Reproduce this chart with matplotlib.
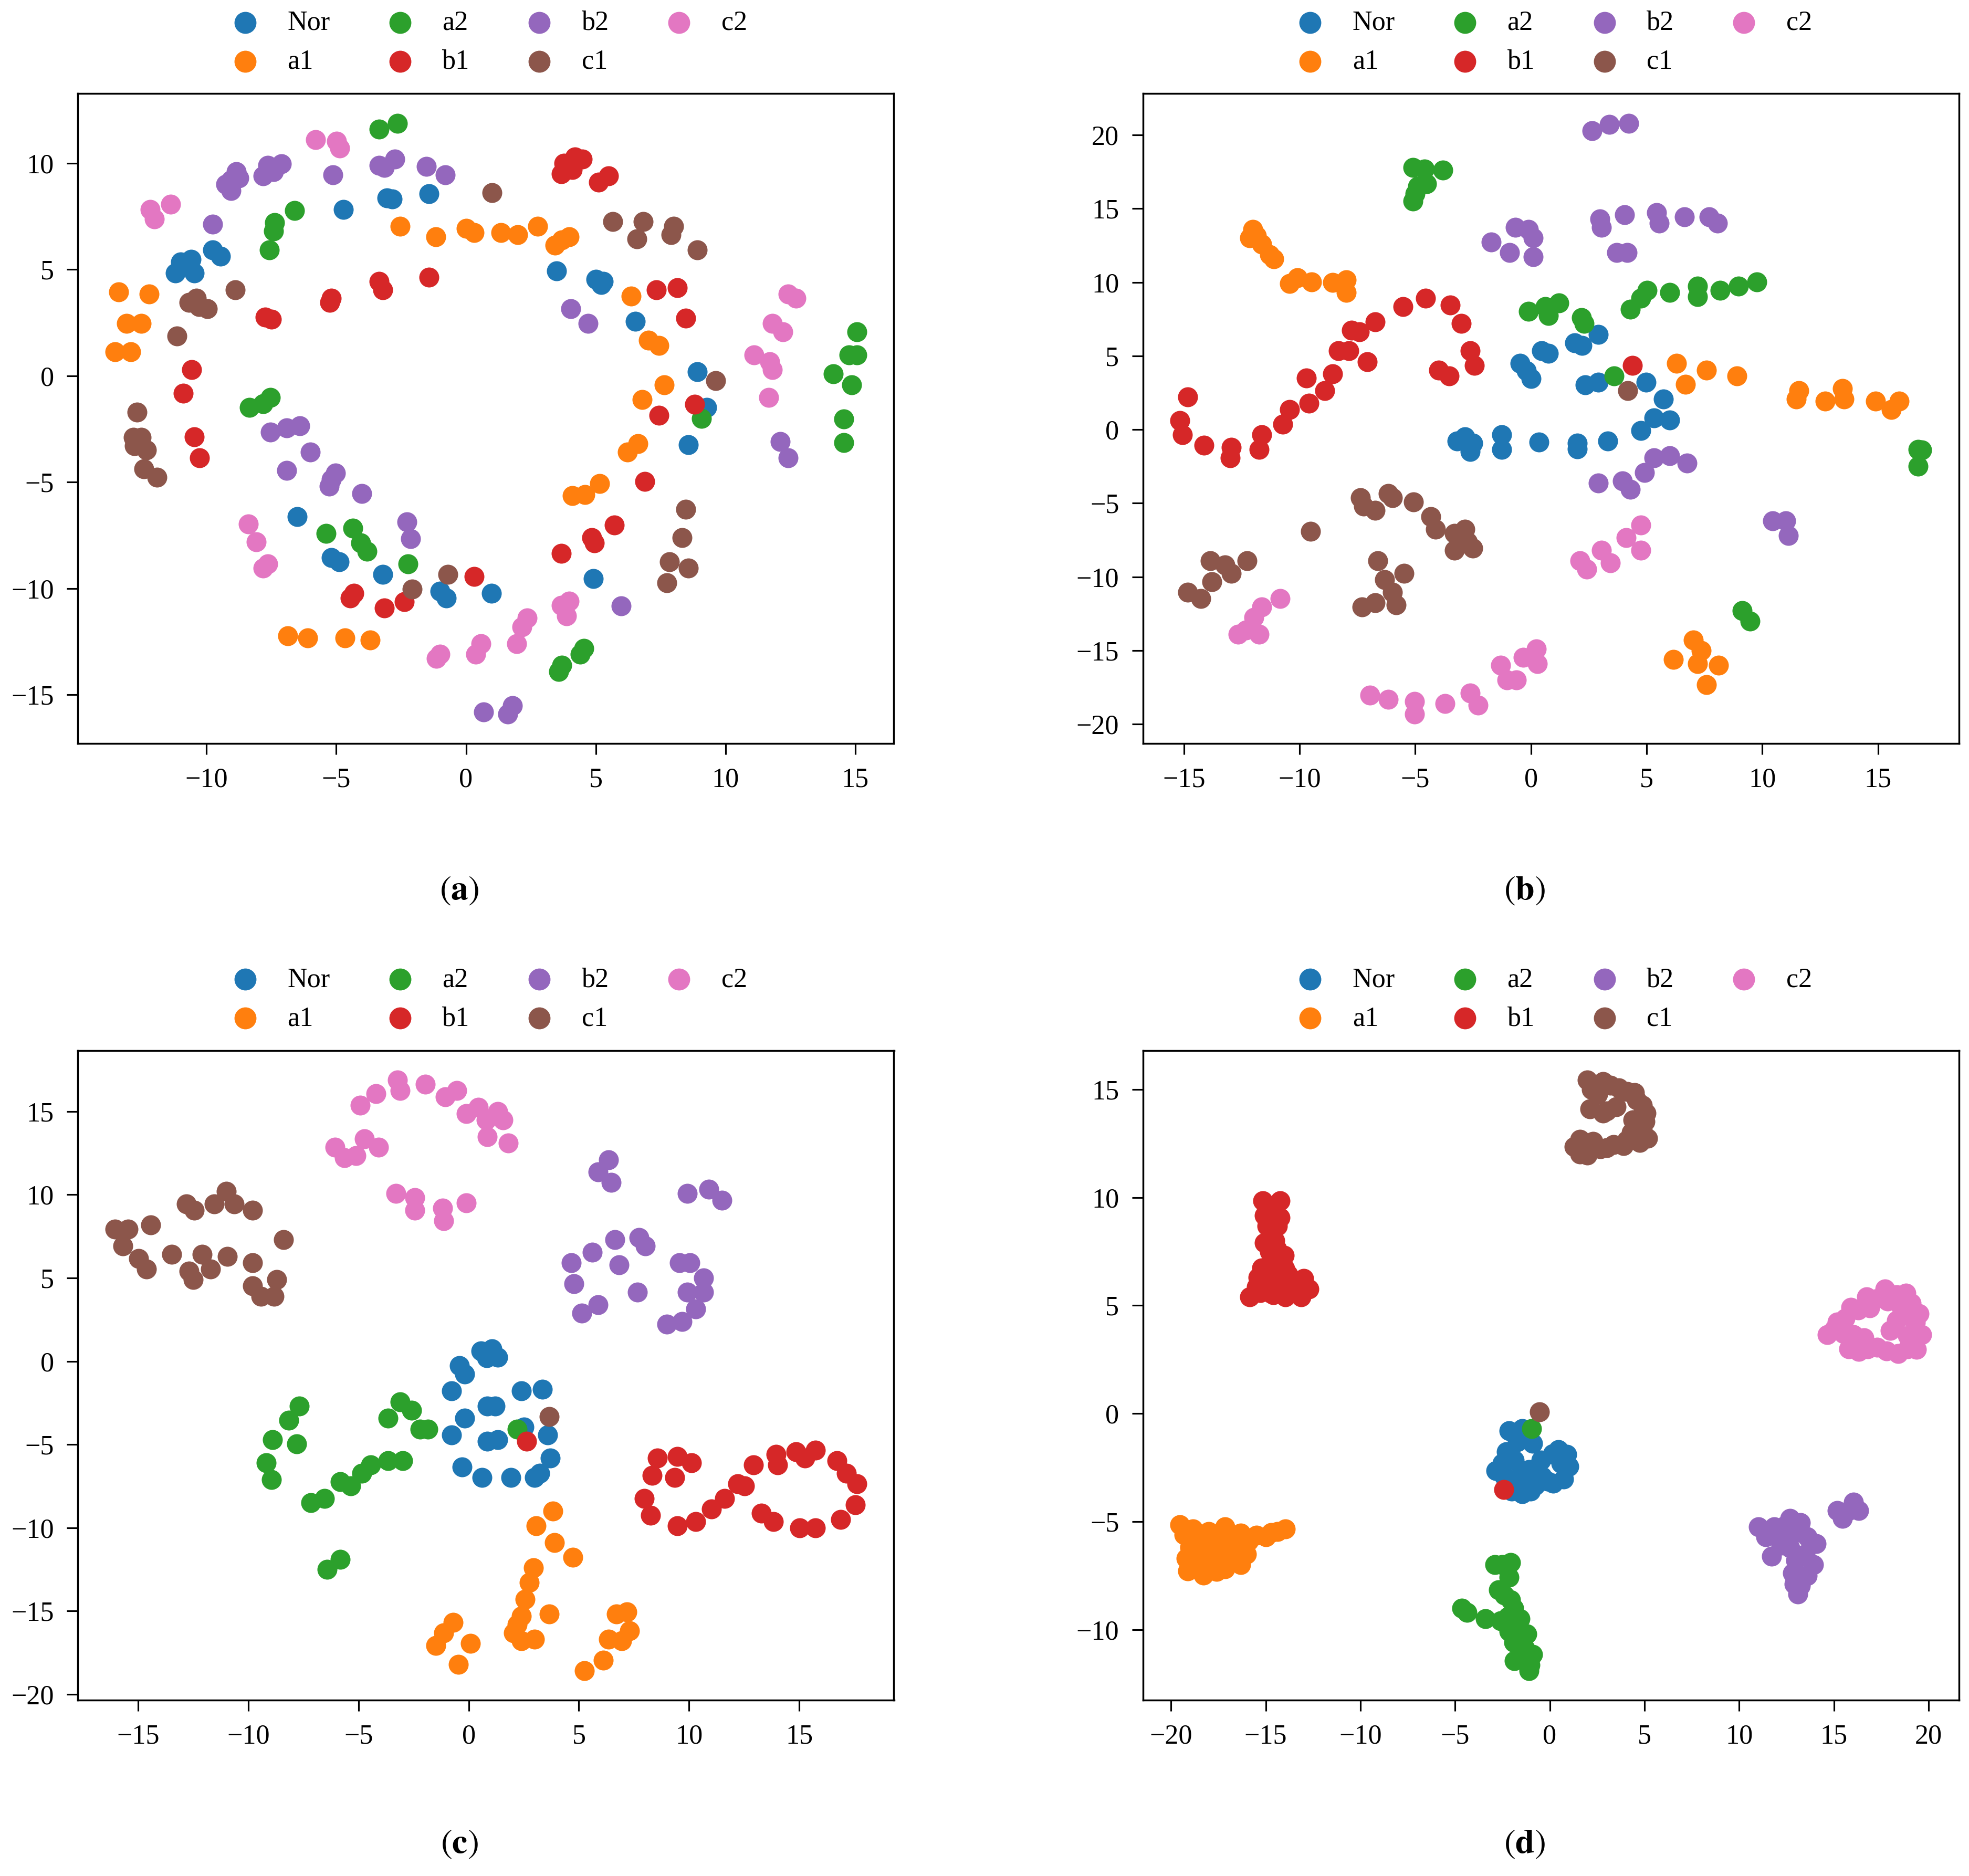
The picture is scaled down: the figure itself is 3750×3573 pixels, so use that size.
import matplotlib
matplotlib.use("Agg")
import matplotlib.pyplot as plt
import numpy as np

# ---------------- data ----------------
CLASSES = ["Nor", "a1", "a2", "b1", "b2", "c1", "c2"]
COLORS = ["#1f77b4", "#ff7f0e", "#2ca02c", "#d62728", "#9467bd", "#8c564b", "#e377c2"]
CAPTIONS = ["a", "b", "c", "d"]

# panel (a)
A_Nor = [(-4.73, 7.82), (-3.04, 8.37), (-2.84, 8.31), (-1.42, 8.57), (-10.99, 5.34), (-10.59, 5.48),
         (-11.19, 4.84), (-10.48, 4.84), (-9.77, 5.93), (-9.46, 5.63), (-6.51, -6.63), (-5.18, -8.55),
         (-4.88, -8.75), (-3.2, -9.35), (-1.0, -10.14), (-0.75, -10.44), (0.98, -10.24), (3.48, 4.94),
         (5.0, 4.54), (5.3, 4.44), (5.2, 4.3), (6.52, 2.56), (8.91, 0.18), (9.27, -1.5), (8.56, -3.25),
         (4.9, -9.54)]
A_a1 = [(-13.38, 3.95), (-12.21, 3.85), (-13.08, 2.46), (-12.52, 2.46), (-13.53, 1.13), (-12.92, 1.13),
        (-2.54, 7.02), (-1.16, 6.53), (0.01, 6.92), (0.32, 6.73), (1.34, 6.73), (2.0, 6.63), (2.76, 7.02),
        (3.42, 6.13), (3.7, 6.4), (3.98, 6.53), (6.37, 3.75), (7.03, 1.67), (7.44, 1.43), (7.64, -0.42),
        (6.78, -1.11), (6.22, -3.59), (6.63, -3.2), (4.09, -5.63), (4.59, -5.58), (5.15, -5.08),
        (-6.86, -12.22), (-6.1, -12.32), (-4.67, -12.32), (-3.7, -12.42)]
A_a2 = [(-3.35, 11.59), (-2.64, 11.88), (-7.37, 7.2), (-7.42, 6.8), (-6.61, 7.78), (-7.58, 5.93),
        (-8.34, -1.5), (-7.83, -1.31), (-7.53, -1.01), (-5.39, -7.42), (-4.37, -7.16), (-4.06, -7.86),
        (-3.81, -8.25), (-2.23, -8.85), (15.06, 2.06), (14.76, 0.97), (15.06, 0.97), (14.15, 0.08),
        (14.86, -0.42), (14.55, -2.04), (14.55, -3.15), (9.07, -2.0), (4.54, -12.82), (4.4, -13.1),
        (3.58, -13.91), (3.7, -13.6)]
A_b1 = [(-7.73, 2.76), (-7.5, 2.65), (-10.58, 0.28), (-10.89, -0.81), (-10.48, -2.86), (-10.27, -3.85),
        (-5.18, 3.65), (-5.25, 3.45), (-3.35, 4.44), (-3.2, 4.05), (-1.42, 4.64), (-4.32, -10.24),
        (-4.47, -10.44), (-3.15, -10.93), (-2.38, -10.63), (0.32, -9.44), (3.78, 10.0), (4.19, 10.3),
        (4.49, 10.2), (3.68, 9.5), (4.09, 9.7), (5.1, 9.1), (5.5, 9.4), (7.34, 4.05), (8.15, 4.15),
        (8.46, 2.7), (7.44, -1.87), (8.81, -1.35), (6.88, -4.98), (5.71, -7.02), (4.95, -7.86),
        (4.85, -7.6), (3.68, -8.35)]
A_b2 = [(-9.77, 7.12), (-9.05, 9.2), (-8.85, 9.6), (-9.26, 9.0), (-8.75, 9.3), (-9.05, 8.7), (-7.83, 9.4),
        (-7.63, 9.9), (-7.12, 9.96), (-7.42, 9.6), (-5.13, 9.44), (-3.15, 9.8), (-2.74, 10.2), (-3.35, 9.9),
        (-1.52, 9.84), (-0.8, 9.44), (-7.53, -2.66), (-6.91, -2.46), (-6.4, -2.34), (-6.0, -3.59),
        (-6.91, -4.44), (-5.18, -4.88), (-5.28, -5.18), (-5.03, -4.58), (-4.01, -5.54), (-2.28, -6.86),
        (-2.13, -7.66), (0.67, -15.8), (1.6, -15.9), (1.8, -15.5), (4.03, 3.15), (4.7, 2.46),
        (12.11, -3.1), (12.42, -3.85), (5.97, -10.83)]
A_c1 = [(-8.9, 4.05), (-10.68, 3.45), (-10.38, 3.65), (-9.97, 3.16), (-10.28, 3.25), (-11.14, 1.87),
        (-12.67, -1.71), (-12.82, -2.9), (-12.52, -2.9), (-12.31, -3.49), (-12.77, -3.29), (-12.41, -4.38),
        (-11.9, -4.78), (-0.7, -9.35), (-2.08, -10.04), (1.0, 8.6), (5.66, 7.26), (6.83, 7.26), (6.58, 6.43),
        (8.0, 7.02), (7.9, 6.63), (8.91, 5.93), (9.62, -0.22), (8.46, -6.27), (8.33, -7.62), (7.85, -8.75),
        (8.56, -9.05), (7.74, -9.74)]
A_c2 = [(-5.8, 11.1), (-4.98, 11.03), (-4.87, 10.7), (-12.16, 7.82), (-12.0, 7.38), (-11.39, 8.06),
        (-8.39, -6.96), (-8.09, -7.82), (-7.83, -9.05), (-7.63, -8.85), (-1.0, -13.1), (-1.15, -13.3),
        (0.37, -13.1), (0.57, -12.6), (12.42, 3.85), (12.72, 3.65), (11.81, 2.46), (12.22, 2.06),
        (11.1, 0.97), (11.71, 0.67), (11.81, 0.28), (11.66, -1.01), (2.15, -11.8), (2.36, -11.4),
        (1.95, -12.6), (3.68, -10.8), (3.98, -10.6), (3.88, -11.3)]

# panel (b)
B_Nor = [(-3.19, -0.79), (-2.85, -0.5), (-2.51, -0.93), (-2.62, -1.5), (-1.26, -0.36), (-1.26, -1.36),
         (0.34, -0.84), (-0.46, 4.48), (0.0, 3.48), (-0.2, 4.0), (0.46, 5.34), (0.76, 5.19), (1.9, 5.9),
         (2.2, 5.7), (2.92, 6.47), (2.35, 3.05), (2.92, 3.2), (4.98, 3.2), (5.72, 2.06), (5.32, 0.78),
         (6.0, 0.64), (4.75, -0.07), (2.0, -0.93), (2.0, -1.3), (3.32, -0.79)]
B_a1 = [(-12.03, 13.6), (-11.86, 13.17), (-11.64, 12.6), (-11.29, 11.88), (-11.12, 11.6), (-12.15, 13.0),
        (-10.44, 9.9), (-10.1, 10.3), (-9.47, 10.03), (-8.56, 9.98), (-7.99, 10.18), (-7.99, 9.32),
        (6.29, 4.48), (6.69, 3.06), (7.6, 4.05), (8.91, 3.63), (11.59, 2.63), (11.48, 2.06), (12.73, 1.92),
        (13.47, 2.77), (13.53, 2.06), (14.9, 1.92), (15.58, 1.35), (15.93, 1.92), (6.17, -15.6),
        (7.03, -14.3), (7.37, -15.0), (7.2, -15.9), (8.11, -16.0), (7.6, -17.3)]
B_a2 = [(-5.1, 17.8), (-4.6, 17.7), (-3.8, 17.6), (-4.9, 16.5), (-4.5, 16.7), (-5.0, 16.0), (-5.1, 15.5),
        (-0.11, 8.04), (0.63, 8.33), (1.21, 8.61), (0.76, 7.75), (2.18, 7.61), (2.3, 7.2), (4.29, 8.18),
        (4.75, 8.9), (5.03, 9.46), (6.0, 9.32), (7.2, 9.75), (7.2, 9.04), (8.17, 9.46), (8.97, 9.75),
        (9.77, 10.03), (16.73, -1.36), (16.9, -1.4), (16.73, -2.49), (3.6, 3.63), (9.14, -12.3),
        (9.48, -13.0)]
B_b1 = [(-14.83, 2.2), (-15.17, 0.63), (-15.06, -0.36), (-14.14, -1.07), (-12.95, -1.21), (-13.0, -1.92),
        (-11.64, -0.36), (-11.75, -1.36), (-10.72, 0.35), (-10.44, 1.35), (-9.58, 1.78), (-9.7, 3.49),
        (-8.9, 2.63), (-8.56, 3.77), (-8.33, 5.34), (-7.87, 5.34), (-7.76, 6.76), (-7.41, 6.62),
        (-6.73, 7.33), (-5.53, 8.33), (-4.56, 8.9), (-3.48, 8.47), (-3.02, 7.19), (-2.62, 5.34),
        (-2.45, 4.34), (-3.99, 4.05), (-3.54, 3.63), (-7.07, 4.62), (4.38, 4.34)]
B_b2 = [(-1.71, 12.74), (-0.91, 12.03), (-0.68, 13.74), (-0.11, 13.59), (0.11, 11.74), (0.11, 13.02),
        (2.64, 20.28), (3.38, 20.71), (4.24, 20.8), (3.04, 13.74), (2.98, 14.3), (4.06, 14.6), (5.43, 14.73),
        (5.55, 14.02), (6.63, 14.45), (7.71, 14.45), (8.06, 14.02), (3.72, 12.03), (4.17, 12.03),
        (2.92, -3.63), (3.95, -3.49), (4.29, -4.06), (4.92, -2.92), (5.32, -1.92), (6.0, -1.78),
        (6.75, -2.27), (10.45, -6.2), (11.02, -6.2), (11.14, -7.19)]
B_c1 = [(-7.36, -4.63), (-7.24, -5.2), (-6.73, -5.48), (-6.16, -4.34), (-5.99, -4.63), (-5.08, -4.91),
        (-4.33, -5.91), (-4.11, -6.77), (-3.31, -7.05), (-2.85, -6.77), (-3.31, -8.19), (-2.51, -8.05),
        (-2.74, -7.62), (-9.53, -6.91), (-6.62, -8.9), (-6.33, -10.18), (-5.48, -9.75), (-5.99, -11.03),
        (-7.3, -12.03), (-6.73, -11.75), (-5.82, -11.89), (-13.86, -8.9), (-13.23, -9.18), (-12.95, -9.75),
        (-12.26, -8.9), (-13.8, -10.32), (-14.83, -11.04), (-14.26, -11.46), (4.18, 2.63)]
B_c2 = [(-10.84, -11.46), (-11.64, -12.03), (-11.98, -12.74), (-12.32, -13.6), (-12.66, -13.88),
        (-11.75, -13.88), (-6.96, -18.01), (-6.16, -18.3), (-5.02, -18.44), (-5.02, -19.3), (-3.71, -18.58),
        (-2.62, -17.87), (-2.28, -18.72), (-1.31, -16.0), (-1.03, -17.0), (-0.63, -17.0), (0.23, -14.88),
        (0.28, -15.88), (-0.34, -15.45), (2.13, -8.9), (2.41, -9.47), (3.04, -8.19), (3.44, -9.04),
        (4.12, -7.33), (4.75, -6.48), (4.75, -8.19)]

# panel (c)
C_Nor = [(0.55, 0.61), (-0.41, -0.28), (-0.17, -0.78), (-0.77, -1.79), (-0.17, -3.43), (-0.77, -4.44),
         (0.85, -2.68), (0.85, -4.82), (-0.29, -6.34), (0.61, -6.97), (1.07, 0.74), (1.31, 0.23),
         (0.83, 0.2), (2.39, -1.79), (3.35, -1.67), (1.19, -2.68), (2.51, -3.94), (1.31, -4.7),
         (3.59, -4.44), (3.71, -5.83), (3.23, -6.72), (2.99, -6.97), (1.91, -6.97)]
C_a1 = [(3.83, -8.99), (3.05, -9.87), (3.89, -10.88), (4.72, -11.77), (2.93, -12.4), (2.75, -13.28),
        (2.57, -14.29), (2.39, -15.3), (2.21, -15.81), (2.99, -16.7), (3.65, -15.18), (2.03, -16.3),
        (2.39, -16.8), (6.7, -15.18), (7.18, -15.05), (7.3, -16.19), (6.34, -16.7), (6.94, -16.8),
        (6.1, -17.96), (5.26, -18.58), (-0.71, -15.68), (-1.13, -16.31), (-1.49, -17.07), (0.07, -16.94),
        (-0.47, -18.2)]
C_a2 = [(-7.69, -2.68), (-8.17, -3.56), (-8.89, -4.7), (-7.81, -4.95), (-9.19, -6.09), (-8.95, -7.1),
        (-7.15, -8.48), (-6.55, -8.23), (-5.82, -7.22), (-5.34, -7.47), (-4.86, -6.72), (-4.44, -6.21),
        (-3.66, -5.96), (-3.0, -5.96), (-3.12, -2.43), (-3.66, -3.43), (-2.58, -2.93), (-2.21, -4.07),
        (-1.85, -4.07), (-6.43, -12.5), (-5.82, -11.9), (2.21, -4.07)]
C_b1 = [(8.56, -5.83), (9.46, -5.71), (10.11, -6.09), (8.32, -6.84), (9.34, -6.97), (7.96, -8.23),
        (8.26, -9.24), (9.46, -9.87), (10.29, -9.62), (11.01, -8.86), (11.61, -8.23), (12.21, -7.35),
        (12.51, -7.47), (12.93, -6.21), (13.95, -5.58), (14.01, -6.21), (14.84, -5.45), (15.74, -5.33),
        (15.26, -5.83), (16.7, -5.96), (17.13, -6.72), (17.61, -7.35), (17.55, -8.61), (16.88, -9.49),
        (15.74, -10.0), (15.02, -10.0), (13.83, -9.62), (13.29, -9.12), (2.63, -4.82)]
C_b2 = [(6.34, 12.1), (5.86, 11.36), (6.46, 10.73), (9.93, 10.08), (10.89, 10.33), (11.49, 9.65),
        (4.66, 5.91), (5.62, 6.54), (4.78, 4.65), (6.64, 7.3), (6.82, 5.78), (7.72, 7.42), (8.02, 6.92),
        (5.14, 2.88), (5.86, 3.38), (7.66, 4.14), (9.57, 5.9), (10.05, 5.9), (10.65, 5.0), (9.93, 4.14),
        (10.65, 4.14), (10.29, 3.13), (8.98, 2.24), (9.69, 2.37)]
C_c1 = [(-16.05, 7.93), (-15.45, 7.93), (-15.69, 6.92), (-14.97, 6.16), (-14.61, 5.53), (-14.43, 8.18),
        (-12.8, 9.44), (-12.44, 9.07), (-11.54, 9.44), (-11.0, 10.2), (-10.64, 9.44), (-9.8, 9.07),
        (-8.41, 7.3), (-13.47, 6.41), (-12.68, 5.4), (-12.5, 4.9), (-12.08, 6.41), (-11.72, 5.53),
        (-10.94, 6.29), (-9.8, 5.9), (-9.8, 4.52), (-9.43, 3.89), (-8.83, 3.89), (-8.71, 4.9),
        (3.65, -3.31)]
C_c2 = [(-4.92, 15.38), (-4.2, 16.06), (-3.24, 16.89), (-3.12, 16.26), (-1.97, 16.64), (-1.07, 15.88),
        (-0.53, 16.26), (-0.11, 14.87), (0.43, 15.25), (0.79, 14.5), (0.85, 13.48), (1.31, 15.0),
        (1.55, 14.5), (1.79, 13.1), (-6.07, 12.85), (-5.64, 12.22), (-5.1, 12.35), (-4.74, 13.36),
        (-4.08, 12.85), (-3.3, 10.08), (-2.45, 9.82), (-2.45, 9.07), (-1.19, 9.2), (-1.13, 8.43),
        (-0.11, 9.5)]

# panel (d)
D_Nor = [(-2.14, -0.8), (-1.45, -0.7), (-0.89, -1.38), (-2.28, -1.78), (-1.86, -2.16), (-2.84, -2.64),
         (-2.14, -3.13), (-1.45, -3.71), (-0.75, -3.32), (-0.13, -3.13), (0.15, -1.86), (-0.47, -2.16),
         (0.45, -1.67), (1.01, -2.45), (0.17, -3.22), (0.73, -3.03), (-1.7, -1.3), (-2.5, -2.3),
         (-1.2, -1.1), (-1.9, -0.9), (-1.1, -2.6), (-1.6, -2.9), (-2.4, -2.9), (-1.0, -3.6), (0.6, -2.3),
         (-2.0, -3.6), (-0.4, -2.9), (0.9, -1.9)]
D_a1 = [(-19.53, -5.15), (-18.83, -5.35), (-18.0, -5.45), (-17.16, -5.25), (-16.33, -5.54), (-15.49, -5.64),
        (-14.38, -5.45), (-13.96, -5.35), (-18.83, -6.61), (-18.14, -6.41), (-17.44, -6.22), (-16.75, -6.8),
        (-16.33, -6.99), (-19.11, -7.28), (-18.28, -7.48), (-17.16, -7.18), (-18.41, -5.93), (-17.58, -5.83),
        (-19.3, -5.6), (-19.0, -6.2), (-18.6, -6.9), (-17.9, -6.9), (-17.6, -7.3), (-16.9, -5.9),
        (-16.4, -6.2), (-15.9, -5.9), (-15.0, -5.7), (-14.7, -5.5), (-18.1, -5.9), (-17.0, -6.6),
        (-19.2, -6.7), (-16.0, -6.5)]
D_a2 = [(-2.91, -6.99), (-2.07, -6.89), (-2.14, -7.57), (-2.7, -8.15), (-2.07, -8.63), (-4.37, -9.21),
        (-3.39, -9.5), (-2.21, -9.41), (-1.58, -9.5), (-2.14, -10.08), (-1.72, -10.47), (-1.31, -10.86),
        (-1.86, -11.44), (-1.03, -11.63), (-0.89, -11.15), (-4.65, -9.02), (-2.5, -7.0), (-2.4, -8.4),
        (-1.9, -9.0), (-1.6, -10.0), (-1.2, -10.2), (-1.5, -11.1), (-1.1, -11.9), (-1.9, -10.6),
        (-2.6, -9.6), (-0.96, -0.7)]
D_b1 = [(-15.15, 9.84), (-14.24, 9.84), (-15.06, 9.16), (-14.24, 9.06), (-14.94, 8.67), (-14.38, 8.67),
        (-15.08, 7.9), (-14.52, 8.0), (-14.03, 7.32), (-15.22, 6.74), (-14.66, 6.93), (-15.84, 5.39),
        (-15.49, 5.87), (-14.73, 5.58), (-13.96, 5.39), (-13.27, 5.58), (-12.99, 6.26), (-12.71, 5.77),
        (-13.13, 5.39), (-13.82, 6.45), (-14.38, 6.16), (-14.7, 9.5), (-14.8, 7.5), (-14.4, 7.6),
        (-15.0, 6.2), (-15.3, 5.6), (-14.2, 5.8), (-13.5, 6.0), (-14.0, 6.7), (-15.4, 6.3), (-14.6, 5.5),
        (-2.42, -3.51)]
D_b2 = [(11.02, -5.25), (11.86, -5.25), (12.69, -4.86), (13.25, -5.06), (11.72, -6.61), (12.69, -6.22),
        (14.08, -6.03), (13.94, -7.0), (12.83, -7.38), (13.25, -7.96), (13.11, -8.35), (15.19, -4.48),
        (16.03, -4.09), (16.31, -4.48), (15.47, -4.86), (11.4, -5.7), (12.2, -5.6), (13.0, -5.5),
        (13.6, -5.7), (13.5, -6.5), (13.0, -6.8), (12.2, -6.1), (13.6, -7.5), (12.9, -7.9), (15.8, -4.5),
        (12.4, -5.2)]
D_c1 = [(1.98, 15.44), (2.82, 15.35), (3.65, 15.06), (4.49, 14.86), (4.9, 14.28), (5.04, 13.51),
        (5.18, 12.74), (2.12, 14.09), (2.82, 13.9), (1.29, 12.35), (1.98, 11.96), (2.68, 12.25),
        (3.37, 12.45), (4.07, 12.64), (4.76, 12.54), (2.54, 14.77), (2.4, 15.2), (3.2, 15.2),
        (4.1, 14.9), (4.6, 14.5), (4.4, 13.6), (4.9, 13.1), (4.3, 13.0), (3.5, 14.2), (3.0, 14.0),
        (1.6, 12.7), (2.3, 12.6), (3.0, 12.3), (1.6, 12.0), (2.2, 15.0), (3.9, 12.4), (5.1, 13.9),
        (-0.54, 0.07)]
D_c2 = [(14.64, 3.65), (15.19, 4.23), (15.89, 4.91), (16.72, 5.39), (17.7, 5.77), (18.81, 5.58),
        (19.51, 4.62), (19.65, 3.65), (19.37, 2.97), (18.39, 2.78), (17.28, 3.07), (16.31, 2.88),
        (16.03, 3.65), (17.98, 3.84), (18.67, 4.81), (17.84, 5.2), (15.0, 3.9), (15.5, 3.7), (15.6, 4.4),
        (16.3, 4.8), (16.9, 4.9), (17.2, 5.3), (18.3, 5.5), (19.1, 5.1), (19.3, 4.2), (18.9, 3.6),
        (18.9, 3.0), (17.8, 2.9), (16.8, 3.0), (15.8, 3.0), (16.6, 3.5), (19.0, 4.5), (18.3, 4.3),
        (18.5, 5.0)]

PANELS = [
    [A_Nor, A_a1, A_a2, A_b1, A_b2, A_c1, A_c2],
    [B_Nor, B_a1, B_a2, B_b1, B_b2, B_c1, B_c2],
    [C_Nor, C_a1, C_a2, C_b1, C_b2, C_c1, C_c2],
    [D_Nor, D_a1, D_a2, D_b1, D_b2, D_c1, D_c2],
]

# ---------------- style ----------------
plt.rcParams['font.family'] = ['Liberation Serif', 'DejaVu Serif']
plt.rcParams['mathtext.fontset'] = 'stix'

W, H, DPI = 15.0, 14.292, 250
fig = plt.figure(figsize=(W, H), dpi=DPI)

ax_w, ax_h = 0.4145, 0.3464
lefts = [0.0395, 0.5804, 0.0395, 0.5804]
bottoms = [0.6037, 0.6037, 0.0937, 0.0937]
cap_x = [0.2334, 0.7742, 0.2334, 0.7742]
cap_y = [0.525, 0.525, 0.0168, 0.0168]

for i, panel in enumerate(PANELS):
    ax = fig.add_axes([lefts[i], bottoms[i], ax_w, ax_h])
    for name, color, pts in zip(CLASSES, COLORS, panel):
        arr = np.array(pts)
        ax.scatter(arr[:, 0], arr[:, 1], s=120, c=color, linewidths=0, label=name)
    ax.tick_params(labelsize=15, length=6, width=0.9, pad=7)
    for sp in ax.spines.values():
        sp.set_linewidth(1.0)
    ax.legend(loc='lower center', bbox_to_anchor=(0.5, 1.0), ncol=4, frameon=False,
              fontsize=15, handlelength=1.5, handletextpad=0.8, columnspacing=1.8,
              labelspacing=0.5, markerscale=1.1, borderaxespad=0.3)
    fig.text(cap_x[i], cap_y[i], r'$(\mathbf{%s})$' % CAPTIONS[i], fontsize=19,
             ha='center', va='center')

fig.savefig('out.png', dpi=DPI)
